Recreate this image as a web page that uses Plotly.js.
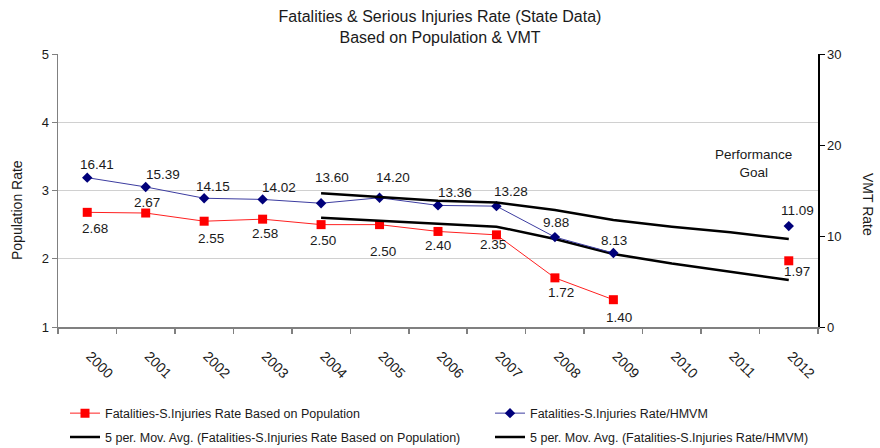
<!DOCTYPE html>
<html>
<head>
<meta charset="utf-8">
<script src="https://cdn.plot.ly/plotly-3.0.1.min.js"></script>
<style>html,body{margin:0;padding:0;background:#fff}#chart{width:880px;height:448px}</style>
</head>
<body>
<div id="chart"></div>
<script>
const years = ['2000','2001','2002','2003','2004','2005','2006','2007','2008','2009','2010','2011','2012'];
const popRate = [2.68, 2.67, 2.55, 2.58, 2.50, 2.50, 2.40, 2.35, 1.72, 1.40, null, null, 1.97];
const vmtRate = [16.41, 15.39, 14.15, 14.02, 13.60, 14.20, 13.36, 13.28, 9.88, 8.13, null, null, 11.09];
const popMovAvg = [null, null, null, null, 2.60, 2.56, 2.51, 2.47, 2.29, 2.07, 1.93, 1.81, 1.69];
const vmtMovAvg = [null, null, null, null, 14.71, 14.27, 13.87, 13.69, 12.86, 11.77, 11.02, 10.40, 9.67];

const FONT = '"Liberation Sans", Arial, sans-serif';
const TXT = '#1a1a1a';

// label offsets in pixels [dx, dy(down)] — styling only
const vmtLabelOff = [[10,-13],[17,-12],[9,-12],[16,-12],[11,-26],[13,-20],[17,-13],[15,-15],[1,-15],[1,-13],null,null,[9,-16]];
const popLabelOff = [[8,16],[1,-11],[7,17],[2,14],[2,16],[3,27],[0,14],[-3,10],[6,15],[6,18],null,null,[8,11]];

const traces = [
  {x: years, y: popRate, name: 'Fatalities-S.Injuries Rate Based on Population', type: 'scatter', mode: 'lines+markers',
   line: {color: '#ff2020', width: 1}, marker: {symbol: 'square', size: 9, color: '#ff0000'},
   yaxis: 'y', legend: 'legend', legendgroup: 'row1'},
  {x: years, y: vmtRate, name: 'Fatalities-S.Injuries Rate/HMVM', type: 'scatter', mode: 'lines+markers',
   line: {color: '#3c3ca0', width: 1}, marker: {symbol: 'diamond', size: 8, color: '#00007a'},
   yaxis: 'y2', legend: 'legend2', legendgroup: 'row1'},
  {x: years, y: popMovAvg, name: '5 per. Mov. Avg. (Fatalities-S.Injuries Rate Based on Population)', type: 'scatter', mode: 'lines',
   line: {color: '#000000', width: 2.5}, yaxis: 'y', legend: 'legend', legendgroup: 'row2'},
  {x: years, y: vmtMovAvg, name: '5 per. Mov. Avg. (Fatalities-S.Injuries Rate/HMVM)', type: 'scatter', mode: 'lines',
   line: {color: '#000000', width: 2.5}, yaxis: 'y2', legend: 'legend2', legendgroup: 'row2'}
];

const LBL = {family: FONT, size: 13.5, color: TXT};
const annotations = [];
years.forEach((yr, i) => {
  if (vmtRate[i] !== null) {
    const o = vmtLabelOff[i];
    annotations.push({x: i, y: vmtRate[i], xref: 'x', yref: 'y2', text: vmtRate[i].toFixed(2), showarrow: false,
      xanchor: 'center', yanchor: 'middle', xshift: o[0], yshift: -o[1], font: LBL});
  }
  if (popRate[i] !== null) {
    const o = popLabelOff[i];
    annotations.push({x: i, y: popRate[i], xref: 'x', yref: 'y', text: popRate[i].toFixed(2), showarrow: false,
      xanchor: 'center', yanchor: 'middle', xshift: o[0], yshift: -o[1], font: LBL});
  }
});
annotations.push({x: (753 - 58) / 760, y: (327 - 163) / 273, xref: 'paper', yref: 'paper', text: 'Performance<br>Goal',
  showarrow: false, xanchor: 'center', yanchor: 'middle', font: {family: FONT, size: 13.5, color: TXT}});
annotations.push({x: (17 - 58) / 760, y: (327 - 210) / 273, xref: 'paper', yref: 'paper', text: 'Population Rate',
  showarrow: false, textangle: -90, xanchor: 'center', yanchor: 'middle', font: {family: FONT, size: 14, color: TXT}});
annotations.push({x: (868 - 58) / 760, y: (327 - 204) / 273, xref: 'paper', yref: 'paper', text: 'VMT Rate',
  showarrow: false, textangle: 90, xanchor: 'center', yanchor: 'middle', font: {family: FONT, size: 14, color: TXT}});

const layout = {
  width: 880, height: 448,
  margin: {l: 58, r: 62, t: 54, b: 121, autoexpand: false},
  paper_bgcolor: '#ffffff', plot_bgcolor: '#ffffff',
  font: {family: FONT, size: 13, color: TXT},
  title: {text: 'Fatalities & Serious Injuries Rate (State Data)<br>Based on Population & VMT',
    x: 0.5, xanchor: 'center', y: 1 - 22 / 448, yanchor: 'middle', font: {family: FONT, size: 16, color: TXT}},
  xaxis: {type: 'category', categoryorder: 'array', categoryarray: years, range: [-0.5, 12.5],
    tickson: 'boundaries', ticks: 'outside', ticklen: 5, tickcolor: '#808080', tickwidth: 1.5,
    showline: true, linecolor: '#808080', linewidth: 1.5, showgrid: false, zeroline: false,
    tickangle: 45, ticklabelstandoff: 14, ticklabelshift: 3, tickfont: {family: FONT, size: 14, color: TXT}},
  yaxis: {range: [1, 5], dtick: 1, tick0: 1, showgrid: true, gridcolor: '#d0d0d0', gridwidth: 1,
    showline: true, linecolor: '#808080', linewidth: 1.5, ticks: 'outside', ticklen: 5, tickcolor: '#808080',
    zeroline: false, tickfont: {family: FONT, size: 13, color: TXT}},
  yaxis2: {range: [0, 30], dtick: 10, tick0: 0, overlaying: 'y', side: 'right', showgrid: false,
    showline: true, linecolor: '#000000', linewidth: 1.5, ticks: 'outside', ticklen: 5, tickcolor: '#000000',
    zeroline: false, tickfont: {family: FONT, size: 13, color: TXT}},
  showlegend: true,
  legend: {x: (65 - 58) / 760, xanchor: 'left', y: -(398.5 - 327) / 273, yanchor: 'top',
    orientation: 'v', traceorder: 'grouped', tracegroupgap: 4.5, bgcolor: 'rgba(0,0,0,0)',
    font: {family: FONT, size: 12.5, color: TXT}},
  legend2: {x: (490 - 58) / 760, xanchor: 'left', y: -(398.5 - 327) / 273, yanchor: 'top',
    orientation: 'v', traceorder: 'grouped', tracegroupgap: 4.5, bgcolor: 'rgba(0,0,0,0)',
    font: {family: FONT, size: 12.5, color: TXT}},
  annotations: annotations
};

Plotly.newPlot('chart', traces, layout, {displayModeBar: false, staticPlot: true});
</script>
</body>
</html>
